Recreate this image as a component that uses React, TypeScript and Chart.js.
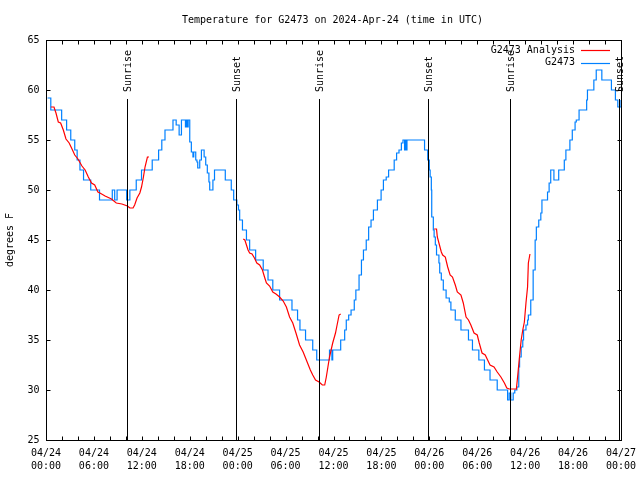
import React, { useEffect, useRef } from "react";
import { Chart, registerables } from "chart.js";

Chart.register(...registerables);

const TITLE = "Temperature for G2473 on 2024-Apr-24 (time in UTC)";
const Y_TITLE = "degrees F";
const SERIES_ANALYSIS = "G2473 Analysis";
const SERIES_OBS = "G2473";

const xTickHours = [0, 6, 12, 18, 24, 30, 36, 42, 48, 54, 60, 66, 72];
const xTickDates = ["04/24", "04/24", "04/24", "04/24", "04/25", "04/25", "04/25", "04/25", "04/26", "04/26", "04/26", "04/26", "04/27"];
const xTickTimes = ["00:00", "06:00", "12:00", "18:00", "00:00", "06:00", "12:00", "18:00", "00:00", "06:00", "12:00", "18:00", "00:00"];
const yTicks = [25, 30, 35, 40, 45, 50, 55, 60, 65];

const sunEventHours = [10.15, 23.85, 34.2, 47.85, 58.05, 71.75];
const sunEventLabels = ["Sunrise", "Sunset", "Sunrise", "Sunset", "Sunrise", "Sunset"];

// observations (hours since 04/24 00:00 UTC, deg F)
const obsHours = [
  0.2, 0.6, 1.96, 2.58, 3.1, 3.6, 3.9, 4.25, 4.7, 5.6, 6.7, 8.3, 8.6, 8.9, 10.1, 10.5, 11.3, 11.96,
  13.3, 14.1, 14.5, 14.9, 15.9, 16.3, 16.67, 16.96, 17.46, 17.6, 17.7, 17.8, 18.0, 18.2, 18.4, 18.5,
  18.75, 18.9, 19.0, 19.25, 19.46, 19.8, 20.0, 20.2, 20.4, 20.5, 20.9, 21.1, 22.45, 23.2, 23.5, 23.9,
  24.1, 24.25, 24.6, 25.1, 25.5, 26.25, 27.2, 27.8, 28.4, 29.25, 30.8, 31.5, 31.8, 32.5, 33.4, 33.9,
  35.5, 35.8, 35.9, 36.9, 37.4, 37.6, 37.9, 38.2, 38.6, 38.8, 39.2, 39.5, 39.75, 40.1, 40.4, 40.7,
  41.0, 41.5, 41.96, 42.25, 42.6, 42.9, 43.6, 43.9, 44.2, 44.5, 44.7, 44.9, 45.0, 45.1, 45.2, 47.4,
  47.8, 48.0, 48.1, 48.25, 48.3, 48.5, 48.6, 48.75, 48.9, 49.2, 49.3, 49.5, 49.75, 50.1, 50.5, 50.7,
  51.25, 51.96, 52.9, 53.4, 54.2, 54.9, 55.6, 56.5, 57.8, 58.0, 58.2, 58.5, 58.7, 58.96, 59.2, 59.3,
  59.5, 59.7, 59.8, 60.1, 60.3, 60.4, 60.7, 61.0, 61.25, 61.4, 61.7, 61.96, 62.1, 62.8, 63.0, 63.2,
  63.6, 64.2, 64.9, 65.1, 65.6, 65.9, 66.25, 66.4, 66.75, 67.7, 67.8, 68.6, 68.9, 69.6, 70.8, 71.3,
  71.6, 72.0,
];
const obsTemps = [
  59.2, 58, 57, 56, 55, 54, 53, 52, 51, 50, 49, 50, 49, 50, 49, 50, 51, 52,
  53, 54, 55, 56, 57, 56.5, 55.5, 57, 56.3, 57, 56.3, 57, 54.8, 53.8, 53.3, 53.8,
  53, 52.8, 52.2, 53, 54, 53.3, 52.5, 51.7, 50.8, 50, 51, 52, 51, 50, 49, 48.5,
  48, 47, 46, 45, 44, 43, 42, 41, 40, 39, 38, 37, 36, 35, 34, 33,
  34, 33, 34, 35, 36, 37, 37.5, 38, 39, 40, 41.5, 43, 44, 45, 46.3, 47,
  48, 49, 50, 51, 51.3, 52, 53, 53.7, 54, 54.7, 55, 54, 55, 54, 55, 54,
  53, 52, 51.3, 50, 47.3, 46, 45.3, 44.5, 43.5, 42.7, 41.7, 41, 40, 39.2, 38.8, 38,
  37, 36, 35, 34, 33, 32, 31, 30, 29, 29.7, 29, 29.7, 30, 30.3, 32.3, 33.3,
  34.3, 35, 36, 36.5, 37, 37.5, 39, 42, 45, 46.3, 47, 47.7, 49, 49.8, 50.7, 52,
  51, 52, 53, 54, 55, 56, 56.8, 57, 58, 59, 60, 61, 62, 61, 60, 59,
  58.3, 59,
];

// analysis (null = gap between runs)
const anaHours = [
  0.6, 1.0, 1.25, 1.54, 1.83, 2.17, 2.5, 2.9, 3.2, 3.6, 4.0, 4.5, 4.9, 5.3, 5.7, 6.1, 6.5, 6.75,
  7.4, 8.2, 8.8, 9.5, 10.2, 10.5, 10.9, 11.1, 11.4, 11.75, 11.96, 12.2, 12.4, 12.7, 12.9, 13.0,
  24.7, 24.9, 25.1, 25.3, 25.5, 25.8, 26.1, 26.4, 26.75, 27.1, 27.4, 27.6, 28.0, 28.4, 28.8, 29.25,
  29.7, 30.1, 30.5, 30.9, 31.3, 31.75, 32.2, 32.7, 33.1, 33.4, 33.75, 34.2, 34.6, 34.9, 35.1, 35.3,
  35.5, 35.7, 35.9, 36.25, 36.4, 36.7, 36.9, 37.0,
  48.6, 48.9, 49.0, 49.2, 49.5, 49.67, 50.0, 50.3, 50.6, 50.9, 51.25, 51.5, 51.96, 52.25, 52.6, 52.9,
  53.2, 53.6, 54.0, 54.25, 54.6, 55.0, 55.3, 55.6, 56.1, 56.5, 56.96, 57.4, 57.7, 58.0, 58.9, 59.1,
  59.25, 59.5, 59.7, 59.9, 60.1, 60.3, 60.4, 60.6,
];
const anaTemps = [
  58.3, 58.3, 57.7, 56.8, 56.7, 56, 55.1, 54.7, 54.2, 53.5, 53.1, 52.4, 52, 51.3, 50.7, 50.5, 49.8, 49.7,
  49.4, 49.1, 48.7, 48.6, 48.4, 48.2, 48.2, 48.5, 49.2, 49.7, 50.3, 51.3, 52.3, 53.3, 53.3, null,
  45.1, 45.0, 44.5, 44, 43.7, 43.6, 43.2, 42.7, 42.5, 42, 41.2, 40.7, 40.4, 39.8, 39.6, 39.3,
  38.9, 38.3, 37.3, 36.7, 35.7, 34.5, 33.8, 32.8, 32, 31.5, 31, 30.8, 30.5, 30.5, 31.3, 32.3,
  33.3, 34, 34.7, 35.7, 36.3, 37.5, 37.6, null,
  46.1, 46.1, 45.3, 44.7, 43.8, 43.5, 43.3, 42.3, 41.5, 41.3, 40.5, 39.8, 39.5, 38.7, 37.3, 37,
  36.5, 35.7, 35.5, 34.7, 33.7, 33.5, 33, 32.5, 32.3, 31.8, 31.3, 30.7, 30.2, 30.1, 30.1, 31.7,
  33, 35, 36, 36.8, 38.7, 40.3, 42.7, 43.6,
];

const RED = "#ff0000";
const BLUE = "#0080ff";
const FONT = '10px "DejaVu Sans Mono", monospace';

const decor = {
  id: "decor",
  afterDatasetsDraw(chart: any) {
    const ctx = chart.ctx;
    const xs = chart.scales.x;
    const { top, bottom } = chart.chartArea;
    ctx.save();
    ctx.strokeStyle = "#000";
    ctx.lineWidth = 1;
    ctx.fillStyle = "#000";
    ctx.font = FONT;
    sunEventHours.forEach((h, i) => {
      const x = Math.round(xs.getPixelForValue(h)) + 0.5;
      ctx.beginPath();
      ctx.moveTo(x, Math.round(top) + 59);
      ctx.lineTo(x, Math.round(bottom));
      ctx.stroke();
      ctx.save();
      ctx.translate(x + 1, Math.round(top) + 52);
      ctx.rotate(-Math.PI / 2);
      ctx.textAlign = "left";
      ctx.textBaseline = "middle";
      ctx.fillText(sunEventLabels[i], 0, 0);
      ctx.restore();
    });
    ctx.restore();
  },
  afterDraw(chart: any) {
    const ctx = chart.ctx;
    const xs = chart.scales.x;
    const ys = chart.scales.y;
    const { left, right, top, bottom } = chart.chartArea;
    const L = Math.round(left) + 0.5;
    const R = Math.round(right) + 0.5;
    const T = Math.round(top) + 0.5;
    const B = Math.round(bottom) + 0.5;
    ctx.save();
    ctx.strokeStyle = "#000";
    ctx.lineWidth = 1;
    ctx.strokeRect(L, T, R - L, B - T);
    ctx.beginPath();
    for (let h = 0; h <= 72; h += 2) {
      const x = Math.round(xs.getPixelForValue(h)) + 0.5;
      ctx.moveTo(x, B);
      ctx.lineTo(x, B - 4);
      ctx.moveTo(x, T);
      ctx.lineTo(x, T + 4);
    }
    yTicks.forEach((v) => {
      const y = Math.round(ys.getPixelForValue(v)) + 0.5;
      ctx.moveTo(L, y);
      ctx.lineTo(L + 4, y);
      ctx.moveTo(R, y);
      ctx.lineTo(R - 4, y);
    });
    ctx.stroke();

    ctx.fillStyle = "#000";
    ctx.font = FONT;
    ctx.textBaseline = "middle";
    ctx.textAlign = "right";
    yTicks.forEach((v) => {
      ctx.fillText(String(v), L - 7, ys.getPixelForValue(v));
    });
    ctx.textAlign = "center";
    xTickHours.forEach((h, i) => {
      const x = xs.getPixelForValue(h);
      ctx.fillText(xTickDates[i], x, bottom + 13);
      ctx.fillText(xTickTimes[i], x, bottom + 26);
    });
    ctx.fillText(TITLE, (left + right) / 2 - 1, 20);
    ctx.save();
    ctx.translate(10, (top + bottom) / 2);
    ctx.rotate(-Math.PI / 2);
    ctx.fillText(Y_TITLE, 0, 0);
    ctx.restore();

    // legend
    ctx.textAlign = "right";
    const lx = right - 46;
    ctx.fillText(SERIES_ANALYSIS, lx, top + 10);
    ctx.fillText(SERIES_OBS, lx, top + 22.5);
    ctx.lineWidth = 1.2;
    ctx.beginPath();
    ctx.strokeStyle = RED;
    ctx.moveTo(right - 40, Math.round(top + 10) + 0.5);
    ctx.lineTo(right - 11, Math.round(top + 10) + 0.5);
    ctx.stroke();
    ctx.beginPath();
    ctx.strokeStyle = BLUE;
    ctx.moveTo(right - 40, Math.round(top + 22.5) + 0.5);
    ctx.lineTo(right - 11, Math.round(top + 22.5) + 0.5);
    ctx.stroke();
    ctx.restore();
  },
};

export default function App() {
  const ref = useRef<HTMLCanvasElement>(null);
  useEffect(() => {
    const chart = new Chart(ref.current as HTMLCanvasElement, {
      type: "line",
      data: {
        datasets: [
          {
            label: SERIES_ANALYSIS,
            data: anaHours.map((h, i) => ({ x: h, y: anaTemps[i] })) as any,
            borderColor: RED,
            borderWidth: 1.2,
            pointRadius: 0,
            tension: 0,
            spanGaps: false,
          },
          {
            label: SERIES_OBS,
            data: obsHours.map((h, i) => ({ x: h, y: obsTemps[i] })) as any,
            borderColor: BLUE,
            borderWidth: 1.2,
            pointRadius: 0,
            stepped: true,
          },
        ],
      },
      options: {
        animation: false,
        responsive: false,
        events: [],
        layout: { padding: { left: 46, top: 40, right: 19, bottom: 40 } },
        scales: {
          x: { type: "linear", min: 0, max: 72, display: false },
          y: { type: "linear", min: 25, max: 65, display: false },
        },
        plugins: {
          legend: { display: false },
          title: { display: false },
          tooltip: { enabled: false },
        },
      },
      plugins: [decor],
    });
    return () => chart.destroy();
  }, []);
  return (
    <div style={{ position: "absolute", left: 0, top: 0, width: 640, height: 480, background: "#fff" }}>
      <canvas ref={ref} width={640} height={480} style={{ display: "block" }} />
    </div>
  );
}
